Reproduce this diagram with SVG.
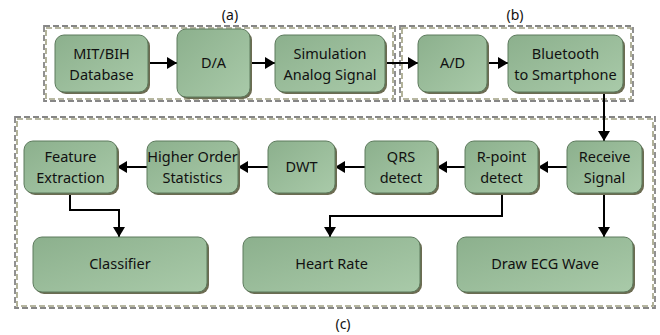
<svg xmlns="http://www.w3.org/2000/svg" width="660" height="335" viewBox="0 0 660 335">
  <defs>
    <linearGradient id="fillGreen" x1="0" y1="0" x2="1" y2="1">
      <stop offset="0" stop-color="#8cb08d"/>
      <stop offset="1" stop-color="#a9caa9"/>
    </linearGradient>
    <marker id="arrow" viewBox="0 0 10 12" refX="10" refY="6" markerWidth="10" markerHeight="12" markerUnits="userSpaceOnUse" orient="auto">
      <path d="M0,0 L10,6 L0,12 Z" fill="#000"/>
    </marker>
  </defs>
  <style>
    .shadow { fill: #6c6c52; }
    .box { fill: url(#fillGreen); stroke: #5d7a5d; stroke-width: 1; }
    .label { font-family: "Noto Sans", "DejaVu Sans", sans-serif; font-size: 14.5px; fill: #111; text-anchor: middle; }
    .tag { font-family: "Noto Sans", "DejaVu Sans", sans-serif; font-size: 14px; fill: #111; text-anchor: middle; }
    .frame-a { fill: none; stroke: #868686; stroke-width: 1.8; stroke-dasharray: 6 3; }
    .frame-b { fill: none; stroke: #a0a082; stroke-width: 1.6; stroke-dasharray: 6 3; }
    .wire { fill: none; stroke: #000; stroke-width: 2; marker-end: url(#arrow); }
  </style>

  <!-- dashed group frames (double-toned) -->
  <g id="frames">
    <rect class="frame-a" x="44" y="26" width="351" height="75"/>
    <rect class="frame-b" x="46" y="28" width="347" height="71"/>
    <rect class="frame-a" x="400" y="26" width="233" height="75"/>
    <rect class="frame-b" x="402" y="28" width="229" height="71"/>
    <rect class="frame-a" x="15" y="117" width="640" height="191"/>
    <rect class="frame-b" x="17" y="119" width="636" height="187"/>
    <text class="tag" x="230" y="20">(a)</text>
    <text class="tag" x="515" y="20">(b)</text>
    <text class="tag" x="343" y="329">(c)</text>
  </g>

  <!-- connectors -->
  <g id="connectors">
    <line class="wire" x1="148" y1="63" x2="177" y2="63"/>
    <line class="wire" x1="250" y1="63" x2="275" y2="63"/>
    <line class="wire" x1="385" y1="63" x2="418" y2="63"/>
    <line class="wire" x1="487" y1="63" x2="508" y2="63"/>
    <line class="wire" x1="604" y1="92" x2="604" y2="141"/>
    <line class="wire" x1="567" y1="167" x2="538" y2="167"/>
    <line class="wire" x1="465" y1="167" x2="437" y2="167"/>
    <line class="wire" x1="365" y1="167" x2="335" y2="167"/>
    <line class="wire" x1="268" y1="167" x2="238" y2="167"/>
    <line class="wire" x1="147" y1="167" x2="117" y2="167"/>
    <polyline class="wire" points="70,193 70,210 119,210 119,237"/>
    <polyline class="wire" points="502,193 502,216 330,216 330,237"/>
    <line class="wire" x1="604" y1="193" x2="604" y2="237"/>
  </g>

  <!-- row 1 -->
  <g id="mit-bih">
    <rect class="shadow" x="57" y="37" width="93" height="57" rx="9"/>
    <rect class="box" x="55" y="35" width="93" height="57" rx="9"/>
    <text class="label" x="101.5" y="59">MIT/BIH</text>
    <text class="label" x="101.5" y="80">Database</text>
  </g>
  <g id="da">
    <rect class="shadow" x="179" y="31" width="73" height="68" rx="9"/>
    <rect class="box" x="177" y="29" width="73" height="68" rx="9"/>
    <text class="label" x="213.5" y="68">D/A</text>
  </g>
  <g id="simulation">
    <rect class="shadow" x="277" y="37" width="110" height="57" rx="9"/>
    <rect class="box" x="275" y="35" width="110" height="57" rx="9"/>
    <text class="label" x="330" y="59">Simulation</text>
    <text class="label" x="330" y="80">Analog Signal</text>
  </g>
  <g id="ad">
    <rect class="shadow" x="420" y="37" width="69" height="57" rx="9"/>
    <rect class="box" x="418" y="35" width="69" height="57" rx="9"/>
    <text class="label" x="452.5" y="68">A/D</text>
  </g>
  <g id="bluetooth">
    <rect class="shadow" x="510" y="37" width="115" height="57" rx="9"/>
    <rect class="box" x="508" y="35" width="115" height="57" rx="9"/>
    <text class="label" x="565.5" y="59">Bluetooth</text>
    <text class="label" x="565.5" y="80">to Smartphone</text>
  </g>

  <!-- row 2 -->
  <g id="feature-extraction">
    <rect class="shadow" x="26" y="143" width="93" height="52" rx="9"/>
    <rect class="box" x="24" y="141" width="93" height="52" rx="9"/>
    <text class="label" x="70.5" y="162">Feature</text>
    <text class="label" x="70.5" y="183">Extraction</text>
  </g>
  <g id="higher-order">
    <rect class="shadow" x="149" y="143" width="91" height="52" rx="9"/>
    <rect class="box" x="147" y="141" width="91" height="52" rx="9"/>
    <text class="label" x="192.5" y="162">Higher Order</text>
    <text class="label" x="192.5" y="183">Statistics</text>
  </g>
  <g id="dwt">
    <rect class="shadow" x="270" y="143" width="67" height="52" rx="9"/>
    <rect class="box" x="268" y="141" width="67" height="52" rx="9"/>
    <text class="label" x="301.5" y="172">DWT</text>
  </g>
  <g id="qrs">
    <rect class="shadow" x="367" y="143" width="72" height="52" rx="9"/>
    <rect class="box" x="365" y="141" width="72" height="52" rx="9"/>
    <text class="label" x="401" y="162">QRS</text>
    <text class="label" x="401" y="183">detect</text>
  </g>
  <g id="r-point">
    <rect class="shadow" x="467" y="143" width="73" height="52" rx="9"/>
    <rect class="box" x="465" y="141" width="73" height="52" rx="9"/>
    <text class="label" x="501.5" y="162">R-point</text>
    <text class="label" x="501.5" y="183">detect</text>
  </g>
  <g id="receive">
    <rect class="shadow" x="569" y="143" width="75" height="52" rx="9"/>
    <rect class="box" x="567" y="141" width="75" height="52" rx="9"/>
    <text class="label" x="604.5" y="162">Receive</text>
    <text class="label" x="604.5" y="183">Signal</text>
  </g>

  <!-- row 3 -->
  <g id="classifier">
    <rect class="shadow" x="35" y="239" width="174" height="55" rx="9"/>
    <rect class="box" x="33" y="237" width="174" height="55" rx="9"/>
    <text class="label" x="120" y="269">Classifier</text>
  </g>
  <g id="heart-rate">
    <rect class="shadow" x="245" y="239" width="177" height="55" rx="9"/>
    <rect class="box" x="243" y="237" width="177" height="55" rx="9"/>
    <text class="label" x="331.5" y="269">Heart Rate</text>
  </g>
  <g id="draw-ecg">
    <rect class="shadow" x="459" y="239" width="176" height="55" rx="9"/>
    <rect class="box" x="457" y="237" width="176" height="55" rx="9"/>
    <text class="label" x="545" y="269">Draw ECG Wave</text>
  </g>
</svg>
